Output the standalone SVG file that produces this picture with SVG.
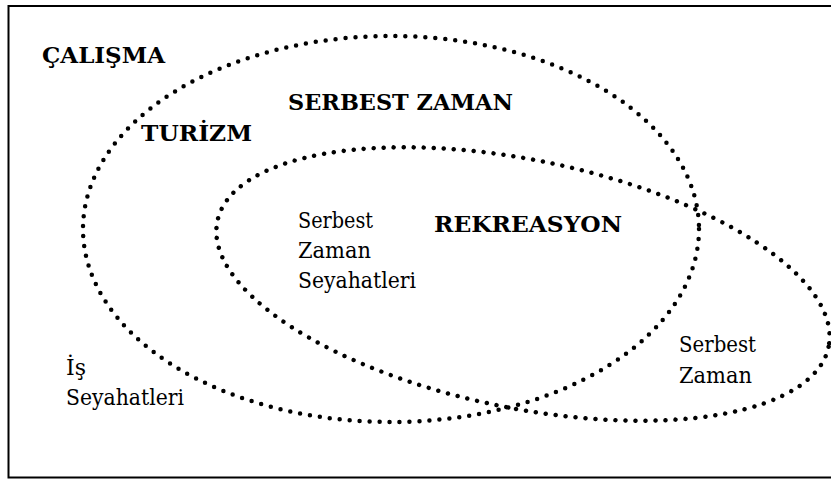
<svg xmlns="http://www.w3.org/2000/svg" width="831" height="480" viewBox="0 0 831 480">
  <style>
    .dot { fill: none; stroke: #000; stroke-width: 4.5; stroke-linecap: round; stroke-dasharray: 0 10; }
    text { font-family: 'DejaVu Serif', 'Liberation Serif', serif; font-size: 22px; fill: #000; }
    .b { font-weight: bold; }
  </style>
  <rect x="0" y="0" width="831" height="480" fill="#fff"/>
  <rect id="frame" x="8.5" y="6" width="830" height="471.5" fill="none" stroke="#000" stroke-width="2"/>
  <g id="connectors">
    <ellipse id="serbest-zaman-ellipse" class="dot" cx="391" cy="229" rx="308" ry="193"/>
    <ellipse id="rekreasyon-ellipse" class="dot" cx="523" cy="284" rx="312" ry="124" transform="rotate(11.6 523 284)"/>
  </g>
  <g id="calisma"><text class="b" x="42" y="63" textLength="123" lengthAdjust="spacingAndGlyphs">ÇALIŞMA</text></g>
  <g id="serbest-zaman"><text class="b" x="288" y="110" textLength="225" lengthAdjust="spacingAndGlyphs">SERBEST ZAMAN</text></g>
  <g id="turizm"><text class="b" x="141" y="141" textLength="111" lengthAdjust="spacingAndGlyphs">TURİZM</text></g>
  <g id="rekreasyon"><text class="b" x="434" y="232" textLength="188" lengthAdjust="spacingAndGlyphs">REKREASYON</text></g>
  <g id="serbest-zaman-seyahatleri">
    <text x="298" y="228" textLength="75" lengthAdjust="spacingAndGlyphs">Serbest</text>
    <text x="298" y="258" textLength="73" lengthAdjust="spacingAndGlyphs">Zaman</text>
    <text x="298" y="288" textLength="118" lengthAdjust="spacingAndGlyphs">Seyahatleri</text>
  </g>
  <g id="is-seyahatleri">
    <text x="66" y="375" textLength="20" lengthAdjust="spacingAndGlyphs">İş</text>
    <text x="66" y="405" textLength="118" lengthAdjust="spacingAndGlyphs">Seyahatleri</text>
  </g>
  <g id="serbest-zaman-right">
    <text x="679" y="352" textLength="77" lengthAdjust="spacingAndGlyphs">Serbest</text>
    <text x="679" y="383" textLength="73" lengthAdjust="spacingAndGlyphs">Zaman</text>
  </g>
</svg>
